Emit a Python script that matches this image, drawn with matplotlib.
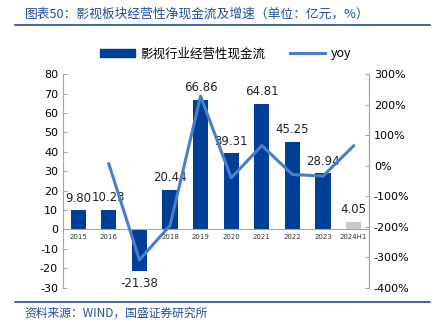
import matplotlib
matplotlib.use("Agg")
import matplotlib.pyplot as plt
import matplotlib.lines as mlines
import matplotlib.patches as mpatches

plt.rcParams['font.family'] = ['DejaVu Sans', 'Noto Sans CJK SC']
plt.rcParams['axes.unicode_minus'] = False

years = ['2015', '2016', '2017', '2018', '2019', '2020', '2021', '2022', '2023', '2024H1']
cash = [9.80, 10.23, -21.38, 20.44, 66.86, 39.31, 64.81, 45.25, 28.94, 4.05]
yoy = [None, 0.06, -3.09, -1.96, 2.28, -0.40, 0.66, -0.29, -0.34, 0.65]

bar_blue = '#003E98'
line_blue = '#4A7EC7'
text_blue = '#1F4E9C'
cjk = ['Noto Sans CJK SC', 'DejaVu Sans']

fig = plt.figure(figsize=(4.34, 3.26), dpi=100)
ax = fig.add_axes([0.145, 0.1175, 0.705, 0.655])

x = list(range(len(years)))
colors = [bar_blue] * (len(years) - 1) + ['#C8C8C8']
ax.bar(x, cash, width=0.5, color=colors, zorder=2)

for i, v in enumerate(cash):
    if v >= 0:
        ax.annotate('%.2f' % v, (i, v), xytext=(0, 4), textcoords='offset points',
                    ha='center', va='bottom', fontsize=8.5, color='#222222')
    else:
        ax.annotate('%.2f' % v, (i, v), xytext=(0, -4), textcoords='offset points',
                    ha='center', va='top', fontsize=8.5, color='#222222')

ax.set_ylim(-30, 80)
ax.set_yticks(range(-30, 81, 10))
ax.set_xlim(-0.5, len(years) - 0.5)
ax.set_xticks(x)
ax.set_xticklabels(years)
ax.spines['bottom'].set_position(('data', 0))
ax.spines['top'].set_visible(False)
for s in ['left', 'right', 'bottom']:
    ax.spines[s].set_color('#A6A6A6')
ax.tick_params(axis='y', direction='in', length=3, color='#A6A6A6', labelsize=8)
ax.tick_params(axis='x', length=0, pad=3, labelcolor='#333333', labelsize=5)

ax2 = ax.twinx()
xs = [i for i, v in enumerate(yoy) if v is not None]
ys = [v for v in yoy if v is not None]
ax2.plot(xs, ys, color=line_blue, lw=2.2, zorder=3)
ax2.set_ylim(-4, 3)
ax2.set_yticks([-4, -3, -2, -1, 0, 1, 2, 3])
ax2.set_yticklabels(['%d%%' % (t * 100) for t in [-4, -3, -2, -1, 0, 1, 2, 3]])
ax2.tick_params(axis='y', direction='in', length=3, color='#A6A6A6', labelsize=8)
for s in ['left', 'top', 'bottom']:
    ax2.spines[s].set_visible(False)
ax2.spines['right'].set_color('#A6A6A6')

# legend
h1 = mpatches.Patch(color=bar_blue, label='影视行业经营性现金流')
h2 = mlines.Line2D([], [], color=line_blue, lw=2.2, label='yoy')
fig.legend(handles=[h1, h2], loc='center', bbox_to_anchor=(0.52, 0.835), ncol=2,
           frameon=False, handlelength=2.8, columnspacing=2.0, handletextpad=0.4,
           prop={'family': cjk, 'size': 9})

# title and source
fig.text(0.057, 0.958, '图表50：影视板块经营性净现金流及增速（单位：亿元，%）', color=text_blue,
         fontsize=9.2, style='italic', va='center', family=cjk)
fig.add_artist(mlines.Line2D([0.035, 0.99], [0.922, 0.922], color=text_blue, lw=1.2))
fig.add_artist(mlines.Line2D([0.035, 0.99], [0.074, 0.074], color=text_blue, lw=1.2))
fig.text(0.057, 0.038, '资料来源：WIND，国盛证券研究所', color=text_blue,
         fontsize=8.5, style='italic', va='center', family=cjk)

fig.savefig('out.png', dpi=100)
